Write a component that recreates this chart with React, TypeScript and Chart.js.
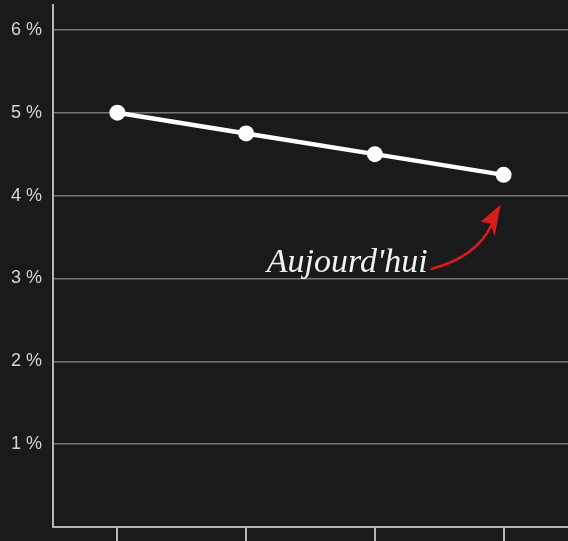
import React, { useEffect, useRef } from "react";
import { Chart, registerables } from "chart.js";

Chart.register(...registerables);

const categories = ["", "", "", ""];
const rates = [5.0, 4.75, 4.5, 4.25];
const yTicks = [0, 1, 2, 3, 4, 5, 6];
const annotationText = "Aujourd'hui";

const annotationPlugin = {
  id: "aujourdhui",
  afterDatasetsDraw(chart: any) {
    const meta = chart.getDatasetMeta(0);
    const last = meta.data[meta.data.length - 1];
    if (!last) return;
    const px = last.x;
    const py = last.y;
    const ctx = chart.ctx;
    ctx.save();
    ctx.font = "italic 34px 'Liberation Serif', serif";
    ctx.fillStyle = "#f2f2f2";
    ctx.textAlign = "right";
    ctx.textBaseline = "alphabetic";
    ctx.fillText(annotationText, px - 76, py + 97);
    ctx.strokeStyle = "#d91c1c";
    ctx.fillStyle = "#d91c1c";
    ctx.lineWidth = 2.5;
    ctx.lineCap = "round";
    ctx.beginPath();
    ctx.moveTo(px - 72, py + 94);
    ctx.quadraticCurveTo(px - 27, py + 82, px - 12, py + 50);
    ctx.stroke();
    ctx.beginPath();
    ctx.moveTo(px - 3, py + 30);
    ctx.lineTo(px - 23, py + 47);
    ctx.lineTo(px - 13, py + 49);
    ctx.lineTo(px - 9, py + 62);
    ctx.closePath();
    ctx.fill();
    ctx.restore();
  },
};

export default function App() {
  const ref = useRef<HTMLCanvasElement | null>(null);

  useEffect(() => {
    document.body.style.margin = "0";
    if (!ref.current) return;
    const chart = new Chart(ref.current, {
      type: "line",
      data: {
        labels: categories,
        datasets: [
          {
            data: rates,
            borderColor: "#ffffff",
            borderWidth: 4.5,
            pointRadius: 7,
            pointBorderWidth: 2,
            pointBackgroundColor: "#ffffff",
            pointBorderColor: "#ffffff",
            tension: 0,
            fill: false,
          },
        ],
      },
      options: {
        animation: false,
        responsive: false,
        maintainAspectRatio: false,
        layout: { autoPadding: false, padding: { top: 5, left: 0, right: -2, bottom: 0 } },
        plugins: {
          legend: { display: false },
          tooltip: { enabled: false },
        },
        scales: {
          x: {
            offset: true,
            afterFit: (s: any) => {
              s.height = 14;
              s.paddingLeft = 0;
              s.paddingRight = 0;
            },
            grid: {
              offset: false,
              drawOnChartArea: false,
              drawTicks: true,
              tickLength: 14,
              color: "#b5b5b5",
              lineWidth: 2,
            },
            border: { display: true, color: "#b5b5b5", width: 2 },
            ticks: { display: false },
          },
          y: {
            min: 0,
            max: 6.3,
            afterFit: (s: any) => {
              s.width = 53;
              s.paddingTop = 0;
              s.paddingBottom = 0;
            },
            afterBuildTicks: (s: any) => {
              s.ticks = yTicks.map((v) => ({ value: v }));
            },
            grid: {
              drawTicks: false,
              color: "rgba(150,150,150,0.75)",
              lineWidth: 1.5,
            },
            border: { display: true, color: "#b5b5b5", width: 2 },
            ticks: {
              padding: 11,
              color: "#d6d6d6",
              font: { family: "'Liberation Sans', Arial, sans-serif", size: 18 },
              callback: (v: any) => (v === 0 ? "" : v + " %"),
            },
          },
        },
      },
      plugins: [annotationPlugin],
    });
    return () => chart.destroy();
  }, []);

  return (
    <div
      style={{
        position: "fixed",
        left: 0,
        top: 0,
        width: 568,
        height: 541,
        background: "#1a1a1c",
      }}
    >
      <canvas ref={ref} width={568} height={541} style={{ width: 568, height: 541, display: "block" }} />
    </div>
  );
}
